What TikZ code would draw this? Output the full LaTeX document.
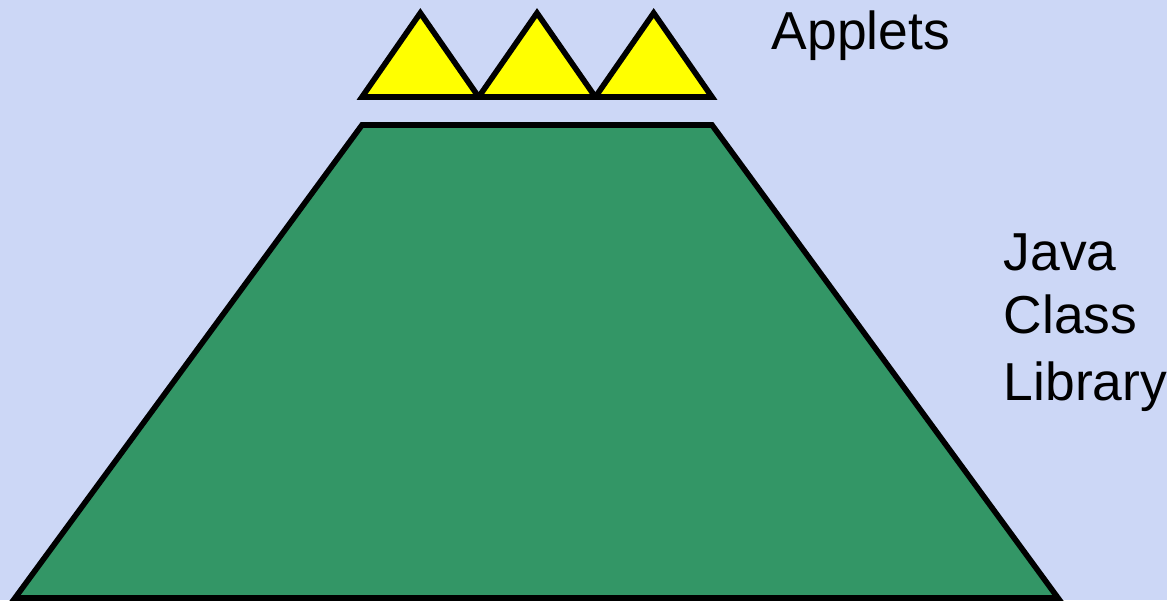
\documentclass[tikz,border=0pt]{standalone}
\usepackage{fontspec}
\setmainfont{Liberation Sans}
\usepackage{tikz}
\usetikzlibrary{calc, positioning}
\usepackage{xcolor}
\definecolor{bgSky}{RGB}{204, 215, 246}
\definecolor{libGreen}{RGB}{51, 150, 102}
\definecolor{appYellow}{RGB}{255, 255, 0}

\begin{document}
\begin{tikzpicture}[line width=1.6pt, font=\fontsize{15.2}{18.2}\selectfont]
  % background
  \fill[bgSky] (0, 0) rectangle (11.67, 6);
  \useasboundingbox (0, 0) rectangle (11.67, 6);

  % class library (trapezoid)
  \coordinate (libTL) at (3.62, 4.75);
  \coordinate (libTR) at (7.12, 4.75);
  \coordinate (libBR) at (10.58, 0.02);
  \coordinate (libBL) at (0.15, 0.02);
  \draw[fill=libGreen] (libTL) -- (libTR) -- (libBR) -- (libBL) -- cycle;

  % applets on top
  \def\tw{1.1667}
  \foreach \i in {0, 1, 2} {
    \draw[fill=appYellow]
      ($(3.62, 5.03) + (\i*\tw, 0)$) -- ++(0.5*\tw, 0.84) -- ++(0.5*\tw, -0.84) -- cycle;
  }

  % labels
  \node[anchor=base west, inner sep=0] (applets) at (7.69, 5.50) {Applets};
  \node[anchor=base west, inner sep=0] (java) at (10.01, 3.30) {Java};
  \node[anchor=base west, inner sep=0] (class) at (10.01, 2.67) {Class};
  \node[anchor=base west, inner sep=0] (library) at (10.01, 2.00) {Library};
\end{tikzpicture}
\end{document}
